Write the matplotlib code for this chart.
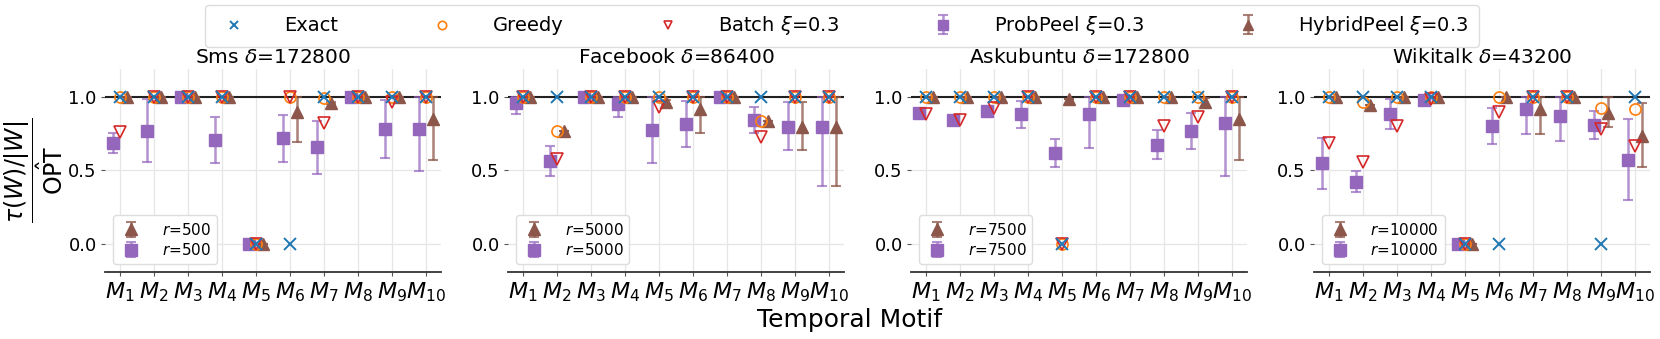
import numpy as np
import matplotlib
matplotlib.use("Agg")
import matplotlib.pyplot as plt

# ---------------- data ----------------
motif_labels = ["$M_{1}$", "$M_{2}$", "$M_{3}$", "$M_{4}$", "$M_{5}$",
                "$M_{6}$", "$M_{7}$", "$M_{8}$", "$M_{9}$", "$M_{10}$"]
datasets = ["Sms", "Facebook", "Askubuntu", "Wikitalk"]
deltas = [172800, 86400, 172800, 43200]
r_values = [500, 5000, 7500, 10000]

# Sms
exact_sms = [1, 1, 1, 1, 0, 0, 1, 1, 1, 1]
greedy_sms = [1, 1, 1, 1, 0, 1, 0.99, 1, 1, 1]
batch_sms = [0.764, 1, 1, 1, 0, 1, 0.821, 1, 0.964, 1]
prob_sms = [0.685, 0.771, 1, 0.705, 0, 0.721, 0.658, 1, 0.782, 0.782]
prob_lo_sms = [0.617, 0.56, 1, 0.551, 0, 0.558, 0.474, 1, 0.583, 0.494]
prob_hi_sms = [0.753, 0.986, 1, 0.862, 0, 0.88, 0.839, 1, 0.98, 1.0]
hybrid_sms = [1, 1, 1, 1, 0, 0.896, 0.961, 1, 1, 0.85]
hybrid_lo_sms = [1, 1, 1, 1, 0, 0.696, 0.955, 1, 1, 0.569]
hybrid_hi_sms = [1, 1, 1, 1, 0, 1.0, 0.967, 1, 1, 1.0]

# Facebook
exact_fb = [1, 1, 1, 1, 1, 1, 1, 1, 1, 1]
greedy_fb = [1, 0.771, 1, 1, 1, 1, 1, 0.839, 1, 1]
batch_fb = [1, 0.58, 1, 1, 0.934, 1, 1, 0.728, 1, 1]
prob_fb = [0.961, 0.565, 1, 0.955, 0.773, 0.819, 1, 0.844, 0.796, 0.796]
prob_lo_fb = [0.882, 0.463, 1, 0.862, 0.549, 0.66, 1, 0.753, 0.639, 0.397]
prob_hi_fb = [1.0, 0.667, 1, 1.0, 1.0, 0.975, 1, 0.932, 0.964, 1.0]
hybrid_fb = [1, 0.771, 1, 1, 0.966, 0.918, 1, 0.837, 0.796, 0.796]
hybrid_lo_fb = [1, 0.771, 1, 1, 0.95, 0.757, 1, 0.837, 0.639, 0.397]
hybrid_hi_fb = [1, 0.771, 1, 1, 0.98, 1.0, 1, 0.837, 0.964, 1.0]

# Askubuntu
exact_au = [1, 1, 1, 1, 0, 1, 1, 1, 1, 1]
greedy_au = [1, 1, 1, 1, 0, 1, 1, 1, 1, 1]
batch_au = [0.882, 0.844, 0.927, 1, 0, 1, 1, 0.805, 0.864, 1]
prob_au = [0.889, 0.841, 0.902, 0.882, 0.619, 0.884, 0.977, 0.673, 0.769, 0.821]
prob_lo_au = [0.879, 0.833, 0.892, 0.791, 0.526, 0.655, 0.967, 0.578, 0.644, 0.46]
prob_hi_au = [0.899, 0.849, 0.912, 0.975, 0.712, 1.0, 0.987, 0.773, 0.893, 1.0]
hybrid_au = [1, 1, 1, 1, 0.986, 1, 1, 1, 0.968, 0.85]
hybrid_lo_au = [1, 1, 1, 1, 0.986, 1, 1, 1, 0.934, 0.574]
hybrid_hi_au = [1, 1, 1, 1, 0.986, 1, 1, 1, 0.993, 1.0]

# Wikitalk
exact_wt = [1, 1, 1, 1, 0, 0, 1, 1, 0, 1]
greedy_wt = [1, 0.968, 1, 1, 0, 1, 1, 1, 0.927, 0.916]
batch_wt = [0.689, 0.56, 0.803, 0.986, 0, 0.896, 1, 1, 0.78, 0.667]
prob_wt = [0.549, 0.422, 0.884, 0.977, 0, 0.8, 0.916, 0.868, 0.807, 0.571]
prob_lo_wt = [0.374, 0.351, 0.78, 0.97, 0, 0.678, 0.748, 0.698, 0.712, 0.3]
prob_hi_wt = [0.723, 0.494, 0.984, 0.985, 0, 0.923, 1.0, 1.0, 0.907, 0.848]
hybrid_wt = [1, 0.943, 1, 1, 0, 1, 0.916, 1, 0.893, 0.735]
hybrid_lo_wt = [1, 0.943, 1, 1, 0, 1, 0.748, 1, 0.798, 0.524]
hybrid_hi_wt = [1, 0.943, 1, 1, 0, 1, 1.0, 1, 1.0, 0.961]

panels = [
    (exact_sms, greedy_sms, batch_sms, prob_sms, prob_lo_sms, prob_hi_sms,
     hybrid_sms, hybrid_lo_sms, hybrid_hi_sms),
    (exact_fb, greedy_fb, batch_fb, prob_fb, prob_lo_fb, prob_hi_fb,
     hybrid_fb, hybrid_lo_fb, hybrid_hi_fb),
    (exact_au, greedy_au, batch_au, prob_au, prob_lo_au, prob_hi_au,
     hybrid_au, hybrid_lo_au, hybrid_hi_au),
    (exact_wt, greedy_wt, batch_wt, prob_wt, prob_lo_wt, prob_hi_wt,
     hybrid_wt, hybrid_lo_wt, hybrid_hi_wt),
]

# ---------------- style ----------------
plt.rcParams['font.family'] = ['DejaVu Sans']
C_EXACT = '#1f77b4'
C_GREEDY = '#ff7f0e'
C_BATCH = '#d62728'
C_PROB = '#9467bd'
C_HYB = '#8c564b'

fig, axes = plt.subplots(1, 4, figsize=(16.6, 3.39), dpi=100)
fig.subplots_adjust(left=0.0633, right=0.994, bottom=0.198, top=0.7965, wspace=0.199)

x = np.arange(1, len(motif_labels) + 1)
off = 0.2
top_handles = None
for k, ax in enumerate(axes):
    ex, gr, ba, pr, prl, prh, hy, hyl, hyh = [np.array(a, dtype=float) for a in panels[k]]
    ax.axhline(1.0, color='#222222', lw=1.5, zorder=1)
    h_ex = ax.plot(x, ex, 'x', color=C_EXACT, ms=8, mew=1.4, ls='none', zorder=4, label='Exact')[0]
    h_gr = ax.plot(x, gr, 'o', mfc='none', mec=C_GREEDY, ms=8, mew=1.2, ls='none', zorder=3, label='Greedy')[0]
    h_ba = ax.plot(x, ba, 'v', mfc='none', mec=C_BATCH, ms=8, mew=1.2, ls='none', zorder=3,
                   label=r'Batch $\xi$=0.3')[0]
    h_pr = ax.errorbar(x - off, pr, yerr=[pr - prl, prh - pr], fmt='s', color=C_PROB,
                       ecolor=(0.58, 0.40, 0.74, 0.7), elinewidth=1.8, capsize=3.5, capthick=1.5,
                       ms=9, zorder=2, label=r'ProbPeel $\xi$=0.3')
    h_hy = ax.errorbar(x + off, hy, yerr=[hy - hyl, hyh - hy], fmt='^', color=C_HYB,
                       ecolor=(0.55, 0.34, 0.29, 0.75), elinewidth=1.8, capsize=3.5, capthick=1.5,
                       ms=9, zorder=2, label=r'HybridPeel $\xi$=0.3')
    if top_handles is None:
        top_handles = [h_ex, h_gr, h_ba, h_pr, h_hy]

    ax.set_xlim(0.56, 10.44)
    ax.set_ylim(-0.19, 1.19)
    ax.set_xticks(x)
    ax.set_xticklabels(motif_labels, fontsize=16)
    ax.set_yticks([0.0, 0.5, 1.0])
    ax.set_yticklabels(['0.0', '0.5', '1.0'], fontsize=13)
    ax.grid(True, color='#e6e6e6', lw=0.9, zorder=0)
    ax.set_axisbelow(True)
    for s in ['left', 'top', 'right']:
        ax.spines[s].set_visible(False)
    ax.spines['bottom'].set_color('#333333')
    ax.spines['bottom'].set_linewidth(1.3)
    ax.tick_params(axis='both', length=3, width=0.8, color='#555555', pad=3)
    ax.set_title(f"{datasets[k]} $\\delta$={deltas[k]}", fontsize=14.5, pad=4)
    ax.legend([h_hy, h_pr], [f"$r$={r_values[k]}", f"$r$={r_values[k]}"],
              loc='lower left', fontsize=11, handlelength=1.6, handletextpad=1.2,
              borderpad=0.4, labelspacing=0.3, framealpha=1.0, edgecolor='#dddddd')

fig.legend(top_handles, [h.get_label() for h in top_handles], loc='upper center',
           bbox_to_anchor=(0.507, 1.015), ncol=5, fontsize=14, markerscale=0.75,
           columnspacing=4.35, handletextpad=1.6, handlelength=2.0, borderpad=0.5,
           framealpha=1.0, edgecolor='#dddddd')

fig.text(0.512, 0.055, 'Temporal Motif', fontsize=18, ha='center', va='center')
fig.text(0.02, 0.497, r'$\dfrac{\tau(W)/|W|}{\hat{\mathrm{OPT}}}$', fontsize=17,
         rotation=90, ha='center', va='center')

fig.savefig('out.png', dpi=100)
